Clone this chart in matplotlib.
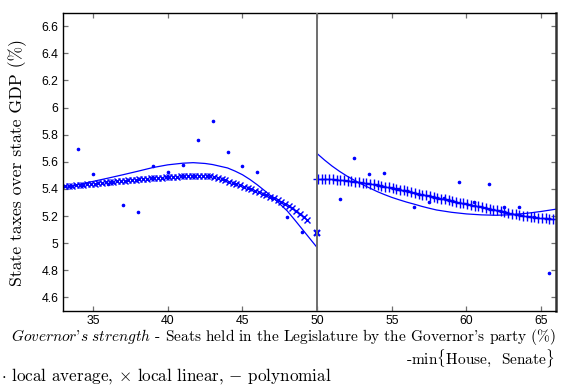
import matplotlib
matplotlib.use("Agg")
import matplotlib.pyplot as plt

# ---------------- data ----------------
# local average (bin means)
avg_left_x = [34, 35, 36, 37, 38, 39, 40, 41, 42, 43, 44, 45, 46, 47, 48, 49]
avg_left_y = [5.696, 5.512, 5.440, 5.282, 5.233, 5.568, 5.527, 5.575, 5.763, 5.901,
              5.669, 5.568, 5.524, 5.335, 5.196, 5.086]
avg_right_x = [51.5, 52.5, 53.5, 54.5, 55.5, 56.5, 57.5, 58.5, 59.5, 60.5, 61.5,
               62.5, 63.5, 64.5, 65.5]
avg_right_y = [5.323, 5.629, 5.507, 5.519, 5.400, 5.267, 5.307, 5.330, 5.450, 5.307,
               5.433, 5.270, 5.267, 5.195, 4.778]

# local linear fit
lin_left_x = [33.10, 33.35, 33.60, 33.85, 34.10, 34.35, 34.60, 34.85, 35.10, 35.35,
              35.60, 35.85, 36.10, 36.35, 36.60, 36.85, 37.10, 37.35, 37.60, 37.85,
              38.10, 38.35, 38.60, 38.85, 39.10, 39.35, 39.60, 39.85, 40.10, 40.35,
              40.60, 40.85, 41.10, 41.35, 41.60, 41.85, 42.10, 42.35, 42.60, 42.85,
              43.10, 43.35, 43.60, 43.85, 44.10, 44.35, 44.60, 44.85, 45.10, 45.35,
              45.60, 45.85, 46.10, 46.35, 46.60, 46.85, 47.10, 47.35, 47.60, 47.85,
              48.10, 48.35, 48.60, 48.85, 49.10, 49.35]
lin_left_y = [5.421, 5.423, 5.425, 5.427, 5.429, 5.431, 5.434, 5.436, 5.439, 5.442,
              5.445, 5.448, 5.451, 5.453, 5.456, 5.458, 5.461, 5.463, 5.466, 5.468,
              5.471, 5.473, 5.476, 5.478, 5.480, 5.482, 5.484, 5.486, 5.488, 5.489,
              5.491, 5.492, 5.493, 5.494, 5.495, 5.495, 5.495, 5.495, 5.494, 5.493,
              5.489, 5.480, 5.472, 5.464, 5.455, 5.446, 5.436, 5.427, 5.418, 5.408,
              5.398, 5.388, 5.377, 5.366, 5.355, 5.343, 5.330, 5.317, 5.303, 5.289,
              5.273, 5.256, 5.238, 5.218, 5.195, 5.168]
lin_right_x = [50.05, 50.30, 50.55, 50.80, 51.05, 51.30, 51.55, 51.80, 52.05, 52.30,
               52.55, 52.80, 53.05, 53.30, 53.55, 53.80, 54.05, 54.30, 54.55, 54.80,
               55.05, 55.30, 55.55, 55.80, 56.05, 56.30, 56.55, 56.80, 57.05, 57.30,
               57.55, 57.80, 58.05, 58.30, 58.55, 58.80, 59.05, 59.30, 59.55, 59.80,
               60.05, 60.30, 60.55, 60.80, 61.05, 61.30, 61.55, 61.80, 62.05, 62.30,
               62.55, 62.80, 63.05, 63.30, 63.55, 63.80, 64.05, 64.30, 64.55, 64.80,
               65.05, 65.30, 65.55, 65.80]
lin_right_y = [5.477, 5.476, 5.475, 5.473, 5.471, 5.469, 5.467, 5.464, 5.461, 5.458,
               5.454, 5.450, 5.446, 5.442, 5.437, 5.433, 5.428, 5.423, 5.417, 5.412,
               5.406, 5.401, 5.395, 5.389, 5.383, 5.377, 5.371, 5.365, 5.359, 5.353,
               5.347, 5.341, 5.335, 5.329, 5.323, 5.317, 5.311, 5.305, 5.299, 5.293,
               5.287, 5.282, 5.276, 5.271, 5.265, 5.260, 5.254, 5.248, 5.242, 5.236,
               5.230, 5.224, 5.218, 5.213, 5.208, 5.203, 5.199, 5.195, 5.191, 5.188,
               5.186, 5.184, 5.182, 5.181]
boundary_x = [50.0]
boundary_y = [5.074]

# polynomial fit
poly_left_x = [33.0, 34.0, 35.0, 36.0, 37.0, 38.0, 39.0, 40.0, 41.0, 41.7, 42.5, 43.0,
               44.0, 44.5, 45.0, 45.5, 46.0, 46.5, 47.0, 47.5, 48.0, 48.5, 49.0, 49.5, 50.0]
poly_left_y = [5.408, 5.432, 5.456, 5.480, 5.505, 5.531, 5.558, 5.578, 5.590, 5.594,
               5.588, 5.580, 5.555, 5.532, 5.505, 5.470, 5.430, 5.386, 5.340, 5.290,
               5.238, 5.172, 5.104, 5.036, 4.968]
poly_right_x = [50.0, 50.5, 51.0, 51.5, 52.0, 52.5, 53.0, 53.5, 54.0, 54.5, 55.0, 55.5,
                56.0, 56.5, 57.0, 57.5, 58.0, 59.0, 60.0, 61.0, 62.0, 63.0, 64.0, 65.0, 66.0]
poly_right_y = [5.661, 5.613, 5.569, 5.530, 5.495, 5.464, 5.435, 5.408, 5.382, 5.359,
                5.338, 5.320, 5.303, 5.288, 5.272, 5.258, 5.245, 5.228, 5.216, 5.209,
                5.206, 5.210, 5.220, 5.234, 5.251]

cutoff = 50
x_ticks = [35, 40, 45, 50, 55, 60, 65]
y_ticks = [4.6, 4.8, 5.0, 5.2, 5.4, 5.6, 5.8, 6.0, 6.2, 6.4, 6.6]
y_ticklabels = ["4.6", "4.8", "5", "5.2", "5.4", "5.6", "5.8", "6", "6.2", "6.4", "6.6"]

# ---------------- figure ----------------
plt.rcParams['mathtext.fontset'] = 'cm'
W, H = 581, 385
fig = plt.figure(figsize=(W / 100, H / 100), dpi=100)
ax = fig.add_axes([63.3 / W, 1 - 311 / H, (556 - 63.3) / W, (311 - 12.7) / H])

blue = (0, 0, 1)
ax.plot(avg_left_x, avg_left_y, ls='none', marker='.', ms=3.2, color=blue)
ax.plot(avg_right_x, avg_right_y, ls='none', marker='.', ms=3.2, color=blue)
ax.plot(lin_left_x, lin_left_y, ls='none', marker='x', ms=4.2, mew=1.0, color=blue)
ax.plot(lin_right_x, lin_right_y, ls='none', marker='+', ms=7, mew=1.0, color=blue)
ax.plot(boundary_x, boundary_y, ls='none', marker='x', ms=5, mew=1.6, color=blue)
ax.plot(poly_left_x, poly_left_y, color=blue, lw=0.9)
ax.plot(poly_right_x, poly_right_y, color=blue, lw=0.9)
ax.axvline(cutoff, color='#6e6e6e', lw=1.4, zorder=3)

ax.set_xlim(33, 66)
ax.set_ylim(4.5, 6.7)
ax.set_xticks(x_ticks)
ax.set_yticks(y_ticks)
ax.set_yticklabels(y_ticklabels)
ax.tick_params(direction='in', top=True, right=True, length=3.5, width=0.9,
               color='#707070', labelsize=8.8, pad=3.5)
ax.tick_params(axis='x', pad=3.0)
for lab in ax.get_xticklabels() + ax.get_yticklabels():
    lab.set_family('Liberation Sans')
for s in ['left', 'top', 'bottom']:
    ax.spines[s].set_color('black')
    ax.spines[s].set_linewidth(1.0)
ax.spines['right'].set_color('#333333')
ax.spines['right'].set_linewidth(1.8)

serif = ['cmr10', 'DejaVu Serif']
fig.text(18 / W, 1 - 162 / H, "State taxes over state GDP (%)", rotation=90,
         ha='center', va='center', fontsize=12.7, family=serif)
fig.text(283.5 / W, 1 - 341 / H,
         r"$\mathit{Governor}$'$\mathit{s\ strength}$ - Seats held in the Legislature by the Governor's party (%)",
         ha='center', va='baseline', fontsize=11.1, family=serif)
fig.text(555 / W, 1 - 363.5 / H, r"-min$\{$House,  Senate$\}$",
         ha='right', va='baseline', fontsize=11.1, family=serif)
fig.text(1 / W, 1 - 381 / H, r"$\cdot$ local average, $\times$ local linear, $-$ polynomial",
         ha='left', va='baseline', fontsize=12.3, family=serif)

fig.savefig("out.png", dpi=100)
